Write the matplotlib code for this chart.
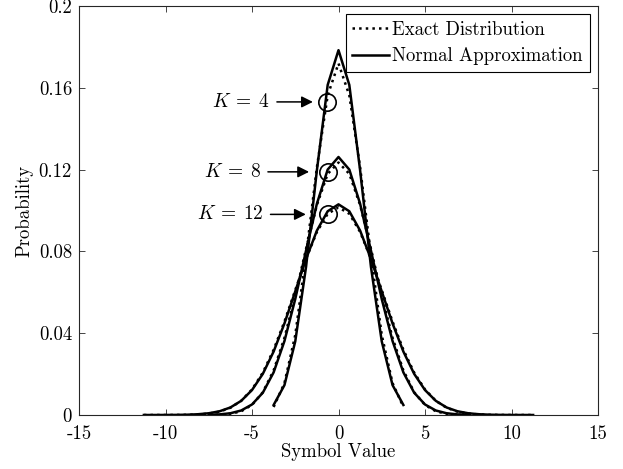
import matplotlib
matplotlib.use('Agg')
import matplotlib.pyplot as plt
from matplotlib.lines import Line2D

# symbol grid (step 0.625) for K = 4, 8, 12
x4 = [-3.75, -3.125, -2.5, -1.875, -1.25, -0.625, 0.0,
      0.625, 1.25, 1.875, 2.5, 3.125, 3.75]
x8 = [-7.5, -6.875, -6.25, -5.625, -5.0, -4.375, -3.75, -3.125, -2.5,
      -1.875, -1.25, -0.625, 0.0, 0.625, 1.25, 1.875, 2.5, 3.125, 3.75,
      4.375, 5.0, 5.625, 6.25, 6.875, 7.5]
x12 = [-11.25, -10.625, -10.0, -9.375, -8.75, -8.125, -7.5, -6.875, -6.25,
       -5.625, -5.0, -4.375, -3.75, -3.125, -2.5, -1.875, -1.25, -0.625, 0.0,
       0.625, 1.25, 1.875, 2.5, 3.125, 3.75, 4.375, 5.0, 5.625, 6.25, 6.875,
       7.5, 8.125, 8.75, 9.375, 10.0, 10.625, 11.25]

exact4 = [0.0039, 0.0156, 0.0391, 0.0781, 0.1211, 0.1563, 0.1719,
          0.1563, 0.1211, 0.0781, 0.0391, 0.0156, 0.0039]
normal4 = [0.0049, 0.0146, 0.0360, 0.0725, 0.1196, 0.1614, 0.1784,
           0.1614, 0.1196, 0.0725, 0.0360, 0.0146, 0.0049]

exact8 = [0.0000153, 0.000122, 0.000549, 0.001831, 0.004913, 0.01111,
          0.02179, 0.03772, 0.05833, 0.08130, 0.10266, 0.11792, 0.12347,
          0.11792, 0.10266, 0.08130, 0.05833, 0.03772, 0.02179, 0.01111,
          0.004913, 0.001831, 0.000549, 0.000122, 0.0000153]
normal8 = [0.0000942, 0.000297, 0.000850, 0.002198, 0.005143, 0.01089,
           0.02085, 0.03615, 0.05669, 0.08044, 0.10329, 0.12001, 0.12616,
           0.12001, 0.10329, 0.08044, 0.05669, 0.03615, 0.02085, 0.01089,
           0.005143, 0.002198, 0.000850, 0.000297, 0.0000942]

exact12 = [0.00000006, 0.0000007, 0.0000046, 0.0000217, 0.0000806, 0.000252,
           0.000682, 0.001637, 0.003533, 0.006934, 0.012478, 0.020717,
           0.031886, 0.045673, 0.061063, 0.076370, 0.089500, 0.098395,
           0.101545,
           0.098395, 0.089500, 0.076370, 0.061063, 0.045673, 0.031886,
           0.020717, 0.012478, 0.006934, 0.003533, 0.001637, 0.000682,
           0.000252, 0.0000806, 0.0000217, 0.0000046, 0.0000007, 0.00000006]
normal12 = [0.0000021, 0.0000067, 0.0000203, 0.0000570, 0.000150, 0.000369,
            0.000848, 0.001825, 0.003675, 0.006923, 0.01220, 0.02011,
            0.03103, 0.04477, 0.06043, 0.07631, 0.09015, 0.09963, 0.10301,
            0.09963, 0.09015, 0.07631, 0.06043, 0.04477, 0.03103, 0.02011,
            0.01220, 0.006923, 0.003675, 0.001825, 0.000848, 0.000369,
            0.000150, 0.0000570, 0.0000203, 0.0000067, 0.0000021]

# annotation markers: circle centre, arrow tail/head, label
k_labels = [r'$K\:=\:4$', r'$K\:=\:8$', r'$K\:=\:12$']
circle_x = [-0.69, -0.63, -0.63]
circle_y = [0.1531, 0.1189, 0.0981]
arrow_tail_x = [-3.56, -4.08, -3.93]
arrow_head_x = [-1.48, -1.70, -1.89]
label_end_x = [-4.02, -4.50, -4.31]

xticks = [-15, -10, -5, 0, 5, 10, 15]
xtick_labels = ['-15', '-10', '-5', '0', '5', '10', '15']
yticks = [0, 0.04, 0.08, 0.12, 0.16, 0.2]
ytick_labels = ['0', '0.04', '0.08', '0.12', '0.16', '0.2']

plt.rcParams['font.family'] = 'serif'
plt.rcParams['font.serif'] = ['cmr10']
plt.rcParams['mathtext.fontset'] = 'cm'
plt.rcParams['axes.unicode_minus'] = False

fs = 13.5
dark = '#262626'

fig = plt.figure(figsize=(6.23, 4.69), dpi=100)
ax = fig.add_axes([79 / 623, 54 / 469, 519 / 623, 409 / 469])

lw = 1.8
for xs, ys in [(x4, normal4), (x8, normal8), (x12, normal12)]:
    ax.plot(xs, ys, '-', color='k', lw=lw)
for xs, ys in [(x4, exact4), (x8, exact8), (x12, exact12)]:
    ax.plot(xs, ys, ':', color='k', lw=lw)

ax.plot(circle_x, circle_y, 'o', mfc='none', mec='k', ms=12.5, mew=1.2)

for lab, cy, xt, xh, xl in zip(k_labels, circle_y, arrow_tail_x, arrow_head_x, label_end_x):
    ax.annotate('', xy=(xh, cy), xytext=(xt, cy),
                arrowprops=dict(arrowstyle='-|>', color='k', lw=1.1,
                                mutation_scale=17, shrinkA=0, shrinkB=0))
    ax.text(xl, cy, lab, ha='right', va='center', fontsize=fs + 0.5)

ax.set_xlim(-15, 15)
ax.set_ylim(0, 0.2)
ax.set_xticks(xticks)
ax.set_xticklabels(xtick_labels)
ax.set_yticks(yticks)
ax.set_yticklabels(ytick_labels)
ax.tick_params(direction='in', top=True, right=True, length=4.3, width=0.6,
               labelsize=fs, colors=dark, labelcolor='k', pad=5)
ax.tick_params(axis='x', pad=7)
for sp in ax.spines.values():
    sp.set_color(dark)
    sp.set_linewidth(0.8)

ax.set_xlabel('Symbol Value', fontsize=fs, labelpad=0)
ax.set_ylabel('Probability', fontsize=fs, labelpad=4)

handles = [Line2D([], [], color='k', ls=':', lw=lw),
           Line2D([], [], color='k', ls='-', lw=lw)]
leg = ax.legend(handles, ['Exact Distribution', 'Normal Approximation'],
                loc='upper right', fontsize=fs, fancybox=False, framealpha=1,
                edgecolor='k', borderaxespad=0.45, handlelength=1.95,
                handletextpad=0.2, borderpad=0.35, labelspacing=0.45)
leg.get_frame().set_linewidth(0.8)

fig.savefig('out.png', dpi=100)
